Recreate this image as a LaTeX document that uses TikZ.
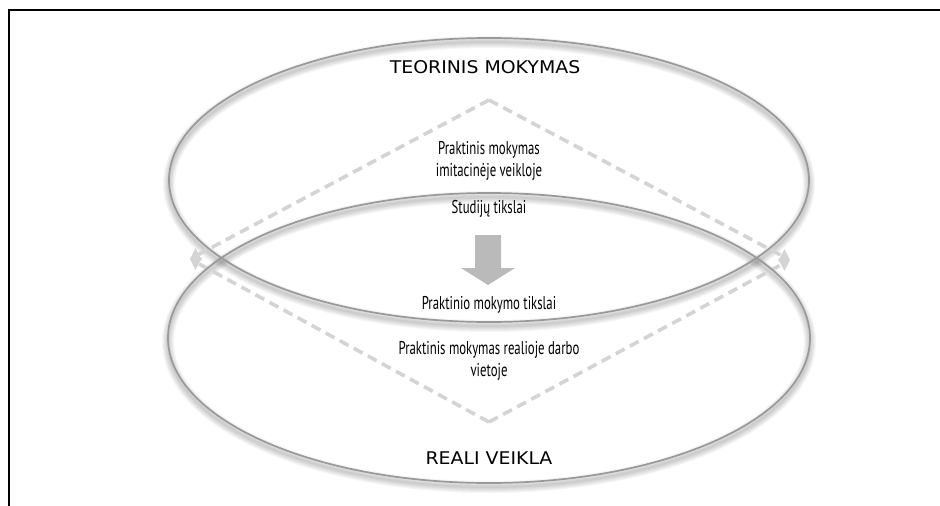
\documentclass[tikz,border=0pt]{standalone}
\usepackage{fontspec}
\setmainfont[FakeStretch=0.69]{PT Sans}
\newfontfamily\headfont[FakeStretch=1.08]{DejaVu Sans}
\usetikzlibrary{arrows.meta}

\begin{document}
\begin{tikzpicture}[x = 1pt, y = -1pt,
	ring/.style = {draw = black!40, line width = 1.7pt},
	ringshadow/.style = {draw = black, opacity = 0.035},
	dashline/.style = {draw = black!17, line width = 3.6pt, dash pattern = on 10pt off 6pt},
	tip/.style = {-{Triangle[length = 10pt, width = 14pt, line width = 0pt]}},
	txt/.style = {font = \fontsize{18.5}{22}\selectfont, align = center, text = black, inner sep = 1pt},
	headtxt/.style = {font = \headfont\fontsize{17.5}{20}\selectfont, text = black, inner sep = 1pt}]
	\useasboundingbox (0,0) rectangle (940,506);
	\draw[line width = 2pt] (9,506) -- (9,10) -- (940,10);

	\coordinate (c_top) at (489,180);
	\coordinate (c_bot) at (489,338);
	\coordinate (d_1) at (489,100);
	\coordinate (d_2) at (190,259);
	\coordinate (d_3) at (489,422);
	\coordinate (d_4) at (790,260);

	\foreach \w in {2,4,6,8,10,12}
	{
		\draw[ringshadow, line width = \w pt] ([yshift = -4pt]c_top) ellipse (320 and 142);
		\draw[ringshadow, line width = \w pt] ([yshift = -4pt]c_bot) ellipse (321 and 145);
	}

	\draw[dashline, tip] (d_1) -- (d_2);
	\draw[dashline, tip] (d_3) -- (d_2);
	\draw[dashline, tip] (d_1) -- (d_4);
	\draw[dashline, tip] (d_3) -- (d_4);

	\draw[ring] (c_top) ellipse (320 and 142);
	\draw[ring] (c_bot) ellipse (321 and 145);

	\fill[black!27] (475,235) -- (501,235) -- (501,268) -- (515,268) -- (488,285) -- (461,268) -- (475,268) -- cycle;

	\node[headtxt] (teorinis) at (485,67) {TEORINIS MOKYMAS};
	\node[txt] (imitacine) at (489,161) {Praktinis mokymas\\imitacinėje veikloje};
	\node[txt] (studiju) at (489,209) {Studijų tikslai};
	\node[txt] (praktinio) at (489,305) {Praktinio mokymo tikslai};
	\node[txt] (realioje) at (489,361) {Praktinis mokymas realioje darbo\\vietoje};
	\node[headtxt] (reali) at (489,458) {REALI VEIKLA};
\end{tikzpicture}
\end{document}
